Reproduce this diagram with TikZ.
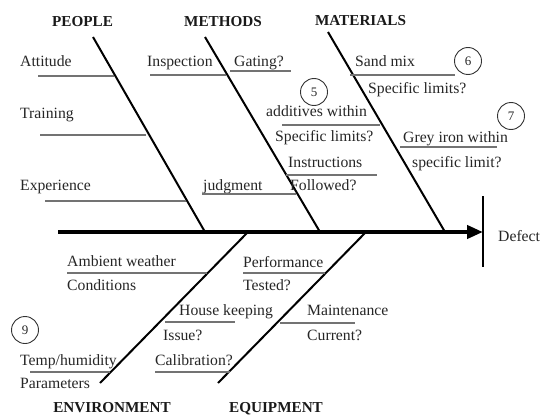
\documentclass[tikz,border=0pt]{standalone}
\usepackage{fontspec}
\setmainfont{Liberation Serif}
\usetikzlibrary{arrows.meta}
\begin{document}
\begin{tikzpicture}[x=1pt,y=-1pt,
  lbl/.style={anchor=base west,inner sep=0pt,text=black!85,font=\fontsize{15.7}{18}\selectfont},
  head/.style={anchor=base,inner sep=0pt,text=black!90,font=\fontsize{15.2}{18}\selectfont\bfseries},
  sub/.style={draw=black!55,line width=1.2pt},
  bone/.style={draw=black,line width=2pt},
  num/.style={circle,draw=black!80,line width=0.9pt,minimum size=27pt,inner sep=0pt,text=black!85,font=\fontsize{13}{15}\selectfont}]
\useasboundingbox (0,0) rectangle (545,417);

% spine
\coordinate (tail) at (58,232);
\coordinate (tip) at (483,232);
\coordinate (bt) at (483,196);
\coordinate (bb) at (483,267);
\draw[line width=4pt,-{Triangle[length=16pt,width=13pt]}] (tail) -- (tip);
\draw[line width=2pt] (bt) -- (bb);
\node[lbl] (defect) at (498,241) {Defect};

% bones
\coordinate (pT) at (93,37);   \coordinate (pB) at (205,232);
\coordinate (mT) at (205,37);  \coordinate (mB) at (320,232);
\coordinate (aT) at (328,32);  \coordinate (aB) at (445,232);
\coordinate (eT) at (247,233); \coordinate (eB) at (100,383);
\coordinate (qT) at (365,233); \coordinate (qB) at (218,383);
\draw[bone] (pT) -- (pB);
\draw[bone] (mT) -- (mB);
\draw[bone] (aT) -- (aB);
\draw[bone] (eT) -- (eB);
\draw[bone] (qT) -- (qB);

% headers
\node[head] (people) at (82.5,27) {PEOPLE};
\node[head] (methods) at (223,27) {METHODS};
\node[head] (materials) at (360.5,26) {MATERIALS};
\node[head] (environment) at (112,412) {ENVIRONMENT};
\node[head] (equipment) at (276,412) {EQUIPMENT};

% PEOPLE
\node[lbl] (att) at (20,67) {Attitude};
\draw[sub] (38,76) -- (114,76);
\node[lbl] (tra) at (20,118) {Training};
\draw[sub] (40,135) -- (146,135);
\node[lbl] (exp) at (20,190) {Experience};
\draw[sub] (45,201) -- (186,201);

% METHODS
\node[lbl] (insp) at (147,67) {Inspection};
\draw[sub] (150,75) -- (226,75);
\node[lbl] (gat) at (234,67) {Gating?};
\draw[sub] (230,71) -- (291,71);
\node[num] (c5) at (314,92) {5};
\node[lbl] (add) at (266,117) {additives within};
\draw[sub] (282,125) -- (380,125);
\node[lbl] (spec1) at (275,141) {Specific limits?};
\node[lbl] (ins) at (288,167) {Instructions};
\draw[sub] (286,175) -- (377,175);
\node[lbl] (fol) at (290,190) {Followed?};
\node[lbl] (jud) at (203,190) {judgment};
\draw[sub] (202,194) -- (296,194);

% MATERIALS
\node[lbl] (sand) at (355,67) {Sand mix};
\draw[sub] (350,75) -- (455,75);
\node[num] (c6) at (468,61) {6};
\node[lbl] (spec2) at (368,93) {Specific limits?};
\node[num] (c7) at (511,116) {7};
\node[lbl] (grey) at (403,142) {Grey iron within};
\draw[sub] (400,147) -- (497,147);
\node[lbl] (spl) at (412,167) {specific limit?};

% ENVIRONMENT
\node[lbl] (amb) at (67,266) {Ambient weather};
\draw[sub] (67,273) -- (207,273);
\node[lbl] (con) at (67,290) {Conditions};
\node[lbl] (hou) at (179,315) {House keeping};
\draw[sub] (165,322) -- (235,322);
\node[lbl] (iss) at (163,340) {Issue?};
\node[num] (c9) at (25,330) {9};
\node[lbl] (tmp) at (20,365) {Temp/humidity};
\draw[sub] (30,372) -- (110,372);
\node[lbl] (par) at (20,388) {Parameters};
\node[lbl] (cal) at (155,365) {Calibration?};
\draw[sub] (155,372) -- (230,372);

% EQUIPMENT
\node[lbl] (perf) at (243,267) {Performance};
\draw[sub] (243,273) -- (325,273);
\node[lbl] (tes) at (243,290) {Tested?};
\node[lbl] (mai) at (307,315) {Maintenance};
\draw[sub] (280,323) -- (355,323);
\node[lbl] (cur) at (307,340) {Current?};
\end{tikzpicture}
\end{document}
